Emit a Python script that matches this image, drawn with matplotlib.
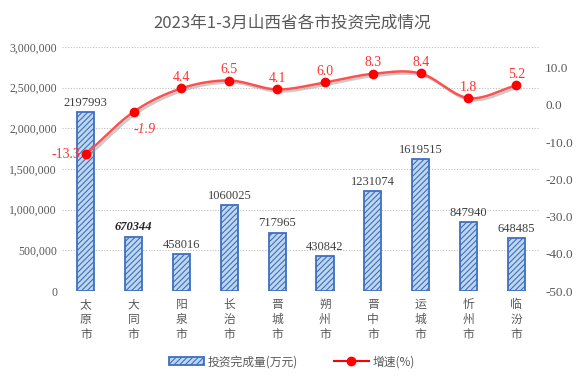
import matplotlib
matplotlib.use("Agg")
import matplotlib.pyplot as plt
import numpy as np
import matplotlib.patheffects as pe
from matplotlib.ticker import FuncFormatter

plt.rcParams['font.family'] = ['Liberation Serif', 'Noto Sans CJK SC', 'DejaVu Sans']
plt.rcParams['hatch.linewidth'] = 0.8

cities = ['太原市', '大同市', '阳泉市', '长治市', '晋城市', '朔州市', '晋中市', '运城市', '忻州市', '临汾市']
invest = [2197993, 670344, 458016, 1060025, 717965, 430842, 1231074, 1619515, 847940, 648485]
growth = [-13.3, -1.9, 4.4, 6.5, 4.1, 6.0, 8.3, 8.4, 1.8, 5.2]

grey = '#595959'


def smooth(x, y, n=20):
    # catmull-rom style curve through the points, just for drawing
    x = np.asarray(x, float)
    y = np.asarray(y, float)
    px = np.concatenate([[2 * x[0] - x[1]], x, [2 * x[-1] - x[-2]]])
    py = np.concatenate([[2 * y[0] - y[1]], y, [2 * y[-1] - y[-2]]])
    xs, ys = [], []
    t = np.linspace(0, 1, n)
    for i in range(1, len(px) - 2):
        for p, out in ((px, xs), (py, ys)):
            p0, p1, p2, p3 = p[i - 1], p[i], p[i + 1], p[i + 2]
            out.extend(0.5 * ((2 * p1) + (-p0 + p2) * t + (2 * p0 - 5 * p1 + 4 * p2 - p3) * t ** 2
                              + (-p0 + 3 * p1 - 3 * p2 + p3) * t ** 3))
    return np.array(xs), np.array(ys)


fig = plt.figure(figsize=(5.84, 3.79), dpi=100)
ax = fig.add_axes([0.106, 0.232, 0.819, 0.644])
ax2 = ax.twinx()

xpos = np.arange(len(cities))
bars = ax.bar(xpos, invest, width=0.36, facecolor='#bdd7ee', edgecolor='#3f6fc0',
              hatch='//////', linewidth=1.3, zorder=2, label='投资完成量(万元)')

for i, v in enumerate(invest):
    kw = dict(fontsize=9, color='#404040')
    if i == 1:
        kw.update(style='italic', fontweight='bold', color='#262626')
    ax.text(i, v + 40000, str(v), ha='center', va='bottom', **kw)

ax.set_ylim(0, 3000000)
ax.set_xlim(-0.5, len(cities) - 0.5)
ax.set_yticks(np.arange(0, 3000001, 500000))
ax.yaxis.set_major_formatter(FuncFormatter(lambda v, p: f'{int(v):,}'))
ax.grid(axis='y', linestyle=(0, (1, 1.5)), color='#bfbfbf', linewidth=0.8, zorder=0)
ax.set_xticks(xpos)
ax.set_xticklabels(['\n'.join(c) for c in cities], fontsize=9.5, color=grey,
                   family=['Noto Sans CJK SC'], linespacing=1.2)

sx, sy = smooth(xpos, growth)
ax2.plot(sx, sy, color='#ff5050', linewidth=1.8, zorder=3,
         path_effects=[pe.SimpleLineShadow(offset=(1.5, -1.5), shadow_color='#999999', alpha=0.5),
                       pe.Normal()])
ax2.plot(xpos, growth, 'o', color='red', markersize=6, zorder=4)
ax2.plot([], [], '-o', color='red', markersize=6, label='增速(%)')
ax2.set_ylim(-50, 15.5)
ax2.set_yticks(np.arange(-50, 11, 10))
ax2.yaxis.set_major_formatter(FuncFormatter(lambda v, p: f'{v:.1f}'))

for i, g in enumerate(growth):
    kw = dict(fontsize=10, color='#ff3333')
    if i == 0:
        ax2.text(i - 0.12, g, f'{g}', ha='right', va='center', **kw)
    elif i == 1:
        ax2.text(i + 0.22, g - 4.8, f'{g}', ha='center', va='center', style='italic', **kw)
    else:
        ax2.text(i, g + 1.2, f'{g}', ha='center', va='bottom', **kw)

for a in (ax, ax2):
    for s in a.spines.values():
        s.set_visible(False)
    a.tick_params(length=0, labelsize=8.5, labelcolor=grey)
ax2.tick_params(labelsize=9.5)
ax.tick_params(axis='x', pad=5)

fig.text(0.5, 0.94, '2023年1-3月山西省各市投资完成情况', ha='center', va='center',
         fontsize=12, color=grey, family=['Noto Sans CJK SC'])

h1, l1 = ax.get_legend_handles_labels()
h2, l2 = ax2.get_legend_handles_labels()
fig.legend(h1 + h2, l1 + l2, loc='center', bbox_to_anchor=(0.5, 0.045), ncol=2, frameon=False,
           prop={'family': 'Noto Sans CJK SC', 'size': 8.5}, labelcolor=grey,
           handlelength=3, columnspacing=3, handletextpad=0.3)

fig.savefig('out.png', dpi=100)
